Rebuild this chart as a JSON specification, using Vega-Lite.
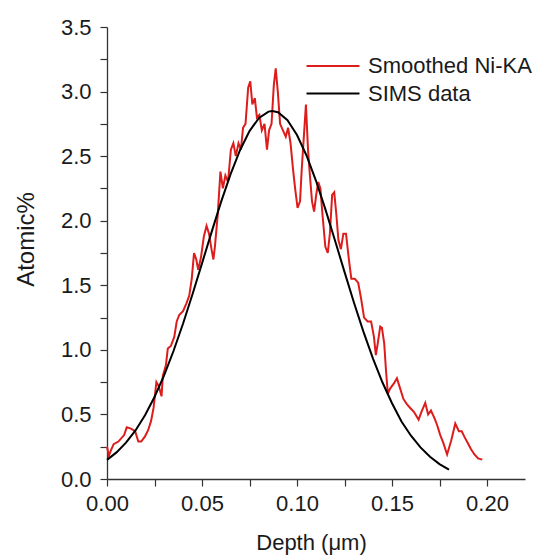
{
  "$schema": "https://vega.github.io/schema/vega-lite/v6.json",
  "width": 418,
  "height": 452,
  "autosize": "none",
  "padding": {"left": 107, "top": 27, "right": 15, "bottom": 80},
  "background": "white",
  "config": {
    "view": {"stroke": null},
    "font": "Liberation Sans",
    "axis": {"grid": false, "domainColor": "#333333", "domainWidth": 1.3, "tickColor": "#333333", "tickWidth": 1.2, "tickSize": 7, "labelColor": "#1a1a1a", "titleColor": "#1a1a1a", "labelFont": "Liberation Sans", "titleFont": "Liberation Sans", "labelFontSize": 22, "titleFontWeight": "normal", "labelOverlap": false, "labelFlush": false}
  },
  "data": {"values": [
    {"s":"Smoothed Ni-KA","x":0.000,"y":0.25},{"s":"Smoothed Ni-KA","x":0.001,"y":0.18},{"s":"Smoothed Ni-KA","x":0.002,"y":0.22},{"s":"Smoothed Ni-KA","x":0.0035,"y":0.27},{"s":"Smoothed Ni-KA","x":0.006,"y":0.29},{"s":"Smoothed Ni-KA","x":0.009,"y":0.34},{"s":"Smoothed Ni-KA","x":0.0104,"y":0.40},{"s":"Smoothed Ni-KA","x":0.0126,"y":0.39},{"s":"Smoothed Ni-KA","x":0.0148,"y":0.37},{"s":"Smoothed Ni-KA","x":0.0165,"y":0.29},{"s":"Smoothed Ni-KA","x":0.018,"y":0.29},{"s":"Smoothed Ni-KA","x":0.020,"y":0.33},{"s":"Smoothed Ni-KA","x":0.0217,"y":0.38},{"s":"Smoothed Ni-KA","x":0.0232,"y":0.45},{"s":"Smoothed Ni-KA","x":0.0245,"y":0.55},{"s":"Smoothed Ni-KA","x":0.026,"y":0.75},{"s":"Smoothed Ni-KA","x":0.0272,"y":0.72},{"s":"Smoothed Ni-KA","x":0.0287,"y":0.64},{"s":"Smoothed Ni-KA","x":0.0294,"y":0.80},{"s":"Smoothed Ni-KA","x":0.031,"y":0.88},{"s":"Smoothed Ni-KA","x":0.032,"y":1.01},{"s":"Smoothed Ni-KA","x":0.0336,"y":1.03},{"s":"Smoothed Ni-KA","x":0.0354,"y":1.10},{"s":"Smoothed Ni-KA","x":0.0367,"y":1.22},{"s":"Smoothed Ni-KA","x":0.038,"y":1.27},{"s":"Smoothed Ni-KA","x":0.040,"y":1.30},{"s":"Smoothed Ni-KA","x":0.0418,"y":1.36},{"s":"Smoothed Ni-KA","x":0.0433,"y":1.42},{"s":"Smoothed Ni-KA","x":0.0446,"y":1.55},{"s":"Smoothed Ni-KA","x":0.0458,"y":1.75},{"s":"Smoothed Ni-KA","x":0.047,"y":1.70},{"s":"Smoothed Ni-KA","x":0.048,"y":1.62},{"s":"Smoothed Ni-KA","x":0.0495,"y":1.72},{"s":"Smoothed Ni-KA","x":0.051,"y":1.88},{"s":"Smoothed Ni-KA","x":0.0524,"y":1.96},{"s":"Smoothed Ni-KA","x":0.0537,"y":1.90},{"s":"Smoothed Ni-KA","x":0.055,"y":1.78},{"s":"Smoothed Ni-KA","x":0.056,"y":1.70},{"s":"Smoothed Ni-KA","x":0.0568,"y":1.80},{"s":"Smoothed Ni-KA","x":0.0583,"y":2.05},{"s":"Smoothed Ni-KA","x":0.0597,"y":2.38},{"s":"Smoothed Ni-KA","x":0.061,"y":2.25},{"s":"Smoothed Ni-KA","x":0.0623,"y":2.35},{"s":"Smoothed Ni-KA","x":0.0637,"y":2.30},{"s":"Smoothed Ni-KA","x":0.0652,"y":2.55},{"s":"Smoothed Ni-KA","x":0.0665,"y":2.60},{"s":"Smoothed Ni-KA","x":0.0678,"y":2.50},{"s":"Smoothed Ni-KA","x":0.0692,"y":2.60},{"s":"Smoothed Ni-KA","x":0.0705,"y":2.55},{"s":"Smoothed Ni-KA","x":0.0716,"y":2.72},{"s":"Smoothed Ni-KA","x":0.0729,"y":2.75},{"s":"Smoothed Ni-KA","x":0.0743,"y":3.03},{"s":"Smoothed Ni-KA","x":0.0754,"y":3.08},{"s":"Smoothed Ni-KA","x":0.0765,"y":2.90},{"s":"Smoothed Ni-KA","x":0.0778,"y":2.95},{"s":"Smoothed Ni-KA","x":0.0789,"y":2.80},{"s":"Smoothed Ni-KA","x":0.0802,"y":2.82},{"s":"Smoothed Ni-KA","x":0.0815,"y":2.70},{"s":"Smoothed Ni-KA","x":0.0829,"y":2.75},{"s":"Smoothed Ni-KA","x":0.0842,"y":2.55},{"s":"Smoothed Ni-KA","x":0.0853,"y":2.70},{"s":"Smoothed Ni-KA","x":0.0866,"y":2.75},{"s":"Smoothed Ni-KA","x":0.0878,"y":3.05},{"s":"Smoothed Ni-KA","x":0.0888,"y":3.18},{"s":"Smoothed Ni-KA","x":0.0899,"y":3.00},{"s":"Smoothed Ni-KA","x":0.0911,"y":2.75},{"s":"Smoothed Ni-KA","x":0.0926,"y":2.70},{"s":"Smoothed Ni-KA","x":0.0941,"y":2.65},{"s":"Smoothed Ni-KA","x":0.0953,"y":2.72},{"s":"Smoothed Ni-KA","x":0.0966,"y":2.60},{"s":"Smoothed Ni-KA","x":0.0979,"y":2.40},{"s":"Smoothed Ni-KA","x":0.099,"y":2.25},{"s":"Smoothed Ni-KA","x":0.1003,"y":2.10},{"s":"Smoothed Ni-KA","x":0.1016,"y":2.15},{"s":"Smoothed Ni-KA","x":0.1025,"y":2.40},{"s":"Smoothed Ni-KA","x":0.1036,"y":2.65},{"s":"Smoothed Ni-KA","x":0.1047,"y":2.90},{"s":"Smoothed Ni-KA","x":0.1058,"y":2.55},{"s":"Smoothed Ni-KA","x":0.1068,"y":2.35},{"s":"Smoothed Ni-KA","x":0.1079,"y":2.15},{"s":"Smoothed Ni-KA","x":0.109,"y":2.07},{"s":"Smoothed Ni-KA","x":0.1101,"y":2.20},{"s":"Smoothed Ni-KA","x":0.1112,"y":2.30},{"s":"Smoothed Ni-KA","x":0.1123,"y":2.25},{"s":"Smoothed Ni-KA","x":0.1134,"y":2.05},{"s":"Smoothed Ni-KA","x":0.1149,"y":1.80},{"s":"Smoothed Ni-KA","x":0.1162,"y":1.75},{"s":"Smoothed Ni-KA","x":0.1173,"y":1.90},{"s":"Smoothed Ni-KA","x":0.1185,"y":2.20},{"s":"Smoothed Ni-KA","x":0.1196,"y":2.22},{"s":"Smoothed Ni-KA","x":0.1207,"y":2.05},{"s":"Smoothed Ni-KA","x":0.1218,"y":1.85},{"s":"Smoothed Ni-KA","x":0.1231,"y":1.78},{"s":"Smoothed Ni-KA","x":0.1244,"y":1.90},{"s":"Smoothed Ni-KA","x":0.1258,"y":1.90},{"s":"Smoothed Ni-KA","x":0.1273,"y":1.70},{"s":"Smoothed Ni-KA","x":0.1286,"y":1.55},{"s":"Smoothed Ni-KA","x":0.1304,"y":1.55},{"s":"Smoothed Ni-KA","x":0.1322,"y":1.52},{"s":"Smoothed Ni-KA","x":0.1337,"y":1.40},{"s":"Smoothed Ni-KA","x":0.1353,"y":1.25},{"s":"Smoothed Ni-KA","x":0.1372,"y":1.22},{"s":"Smoothed Ni-KA","x":0.139,"y":1.22},{"s":"Smoothed Ni-KA","x":0.1405,"y":1.10},{"s":"Smoothed Ni-KA","x":0.1415,"y":0.96},{"s":"Smoothed Ni-KA","x":0.1425,"y":1.05},{"s":"Smoothed Ni-KA","x":0.1438,"y":1.18},{"s":"Smoothed Ni-KA","x":0.1447,"y":1.17},{"s":"Smoothed Ni-KA","x":0.1459,"y":1.05},{"s":"Smoothed Ni-KA","x":0.1468,"y":0.85},{"s":"Smoothed Ni-KA","x":0.1478,"y":0.66},{"s":"Smoothed Ni-KA","x":0.149,"y":0.70},{"s":"Smoothed Ni-KA","x":0.151,"y":0.74},{"s":"Smoothed Ni-KA","x":0.1526,"y":0.78},{"s":"Smoothed Ni-KA","x":0.1543,"y":0.70},{"s":"Smoothed Ni-KA","x":0.156,"y":0.62},{"s":"Smoothed Ni-KA","x":0.1578,"y":0.58},{"s":"Smoothed Ni-KA","x":0.1596,"y":0.55},{"s":"Smoothed Ni-KA","x":0.1615,"y":0.52},{"s":"Smoothed Ni-KA","x":0.164,"y":0.46},{"s":"Smoothed Ni-KA","x":0.1655,"y":0.52},{"s":"Smoothed Ni-KA","x":0.1675,"y":0.59},{"s":"Smoothed Ni-KA","x":0.169,"y":0.50},{"s":"Smoothed Ni-KA","x":0.1705,"y":0.53},{"s":"Smoothed Ni-KA","x":0.1724,"y":0.47},{"s":"Smoothed Ni-KA","x":0.1737,"y":0.42},{"s":"Smoothed Ni-KA","x":0.1754,"y":0.34},{"s":"Smoothed Ni-KA","x":0.177,"y":0.28},{"s":"Smoothed Ni-KA","x":0.179,"y":0.19},{"s":"Smoothed Ni-KA","x":0.1812,"y":0.30},{"s":"Smoothed Ni-KA","x":0.1833,"y":0.43},{"s":"Smoothed Ni-KA","x":0.1852,"y":0.37},{"s":"Smoothed Ni-KA","x":0.1867,"y":0.37},{"s":"Smoothed Ni-KA","x":0.188,"y":0.33},{"s":"Smoothed Ni-KA","x":0.1898,"y":0.28},{"s":"Smoothed Ni-KA","x":0.1916,"y":0.23},{"s":"Smoothed Ni-KA","x":0.1934,"y":0.19},{"s":"Smoothed Ni-KA","x":0.1953,"y":0.16},{"s":"Smoothed Ni-KA","x":0.1975,"y":0.15},
    {"s":"SIMS data","x":0.000,"y":0.148},{"s":"SIMS data","x":0.005,"y":0.206},{"s":"SIMS data","x":0.010,"y":0.281},{"s":"SIMS data","x":0.015,"y":0.376},{"s":"SIMS data","x":0.020,"y":0.494},{"s":"SIMS data","x":0.025,"y":0.635},{"s":"SIMS data","x":0.030,"y":0.801},{"s":"SIMS data","x":0.035,"y":0.991},{"s":"SIMS data","x":0.040,"y":1.202},{"s":"SIMS data","x":0.045,"y":1.431},{"s":"SIMS data","x":0.050,"y":1.670},{"s":"SIMS data","x":0.055,"y":1.910},{"s":"SIMS data","x":0.060,"y":2.144},{"s":"SIMS data","x":0.065,"y":2.359},{"s":"SIMS data","x":0.070,"y":2.546},{"s":"SIMS data","x":0.075,"y":2.694},{"s":"SIMS data","x":0.080,"y":2.796},{"s":"SIMS data","x":0.085,"y":2.845},{"s":"SIMS data","x":0.087,"y":2.850},{"s":"SIMS data","x":0.090,"y":2.840},{"s":"SIMS data","x":0.095,"y":2.778},{"s":"SIMS data","x":0.100,"y":2.664},{"s":"SIMS data","x":0.105,"y":2.505},{"s":"SIMS data","x":0.110,"y":2.309},{"s":"SIMS data","x":0.115,"y":2.086},{"s":"SIMS data","x":0.120,"y":1.847},{"s":"SIMS data","x":0.125,"y":1.604},{"s":"SIMS data","x":0.130,"y":1.365},{"s":"SIMS data","x":0.135,"y":1.139},{"s":"SIMS data","x":0.140,"y":0.932},{"s":"SIMS data","x":0.145,"y":0.747},{"s":"SIMS data","x":0.150,"y":0.587},{"s":"SIMS data","x":0.155,"y":0.445},{"s":"SIMS data","x":0.160,"y":0.335},{"s":"SIMS data","x":0.165,"y":0.245},{"s":"SIMS data","x":0.170,"y":0.172},{"s":"SIMS data","x":0.175,"y":0.115},{"s":"SIMS data","x":0.180,"y":0.072}
  ]},
  "mark": {"type": "line", "strokeWidth": 2, "interpolate": "linear"},
  "encoding": {
    "x": {"field": "x", "type": "quantitative", "scale": {"domain": [0, 0.22], "nice": false, "zero": false},
      "axis": {"title": "Depth (μm)", "titleFontSize": 22, "titleBaseline": "alphabetic", "titleY": 70, "titleX": 204, "values": [0, 0.025, 0.05, 0.075, 0.1, 0.125, 0.15, 0.175, 0.2], "labelExpr": "round(datum.value*40) % 2 == 0 ? format(datum.value, '.2f') : ''", "labelPadding": 7}},
    "y": {"field": "y", "type": "quantitative", "scale": {"domain": [0, 3.5], "nice": false},
      "axis": {"title": "Atomic%", "titleFontSize": 24, "titleBaseline": "alphabetic", "titleAngle": 270, "titleX": -74, "titleY": 212, "titleAlign": "center", "values": [0, 0.25, 0.5, 0.75, 1, 1.25, 1.5, 1.75, 2, 2.25, 2.5, 2.75, 3, 3.25, 3.5], "labelExpr": "round(datum.value*4) % 2 == 0 ? format(datum.value, '.1f') : ''", "labelPadding": 9}},
    "color": {"field": "s", "type": "nominal", "sort": ["Smoothed Ni-KA", "SIMS data"],
      "scale": {"domain": ["Smoothed Ni-KA", "SIMS data"], "range": ["#dd1c1c", "#000000"]},
      "legend": {"title": null, "orient": "none", "legendX": 214, "legendY": 27, "padding": 0, "symbolType": "M-2.5,0H2.5", "symbolSize": 449, "symbolStrokeWidth": 2, "labelFontSize": 22, "labelFont": "Liberation Sans", "labelColor": "#1a1a1a", "labelOffset": 23, "rowPadding": 4.5, "labelLimit": 300}}
  }
}
